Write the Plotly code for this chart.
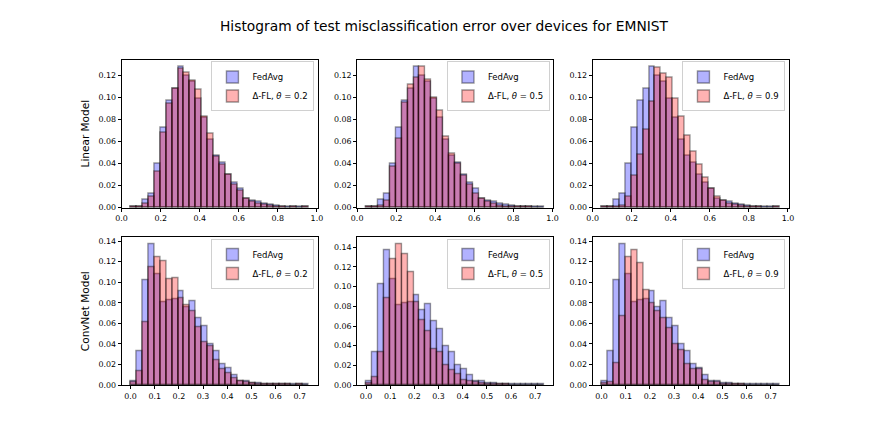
import numpy as np
import plotly.graph_objects as go
from plotly.subplots import make_subplots

# bin settings (30 bins per histogram)
n_bins = 30
lin_lo, lin_hi = 0.0457, 0.9593
conv_lo, conv_hi = 0.0, 0.738

thetas = ["0.2", "0.5", "0.9"]
row_names = ["Linear Model", "ConvNet Model"]

# Linear model, fraction of devices per bin
lin_fedavg = [0.001, 0.0005, 0.007, 0.013, 0.040, 0.073, 0.097, 0.108, 0.128, 0.120,
              0.114, 0.099, 0.082, 0.062, 0.047, 0.041, 0.030, 0.023, 0.017, 0.008,
              0.006, 0.005, 0.004, 0.003, 0.002, 0.001, 0.0005, 0.0005, 0.0005, 0.0005]
lin_dfl_02 = [0.001, 0.0005, 0.004, 0.010, 0.033, 0.068, 0.094, 0.108, 0.126, 0.123,
              0.115, 0.107, 0.083, 0.067, 0.046, 0.039, 0.030, 0.021, 0.015, 0.008,
              0.005, 0.004, 0.003, 0.002, 0.001, 0.0005, 0.0, 0.0005, 0.0, 0.0005]
lin_dfl_05 = [0.001, 0.0005, 0.002, 0.006, 0.037, 0.063, 0.095, 0.112, 0.118, 0.128,
              0.116, 0.100, 0.088, 0.064, 0.049, 0.040, 0.029, 0.021, 0.013, 0.008,
              0.005, 0.004, 0.002, 0.001, 0.001, 0.0005, 0.0005, 0.0005, 0.0, 0.0]
lin_dfl_09 = [0.001, 0.0005, 0.001, 0.002, 0.010, 0.029, 0.048, 0.071, 0.096, 0.127,
              0.122, 0.118, 0.099, 0.083, 0.065, 0.051, 0.039, 0.027, 0.017, 0.010,
              0.006, 0.004, 0.003, 0.002, 0.001, 0.0005, 0.0005, 0.0, 0.0, 0.0005]

# ConvNet model
conv_fedavg = [0.004, 0.033, 0.102, 0.137, 0.108, 0.081, 0.083, 0.084, 0.091, 0.076,
               0.082, 0.065, 0.057, 0.040, 0.033, 0.020, 0.016, 0.010, 0.004, 0.004,
               0.002, 0.002, 0.001, 0.001, 0.0005, 0.0005, 0.0005, 0.0005, 0.0005, 0.0005]
conv_dfl_02 = [0.003, 0.014, 0.061, 0.115, 0.124, 0.121, 0.103, 0.104, 0.085, 0.078,
               0.072, 0.056, 0.042, 0.038, 0.024, 0.015, 0.012, 0.007, 0.004, 0.003,
               0.002, 0.001, 0.001, 0.0005, 0.0005, 0.0005, 0.0005, 0.0, 0.0005, 0.0]
conv_dfl_05 = [0.002, 0.008, 0.033, 0.088, 0.128, 0.143, 0.133, 0.115, 0.084, 0.066,
               0.055, 0.036, 0.033, 0.020, 0.015, 0.011, 0.005, 0.004, 0.003, 0.002,
               0.001, 0.001, 0.0005, 0.0005, 0.0, 0.0, 0.0, 0.0, 0.0, 0.0]
conv_dfl_09 = [0.002, 0.003, 0.021, 0.067, 0.124, 0.131, 0.119, 0.092, 0.080, 0.072,
               0.065, 0.055, 0.040, 0.034, 0.020, 0.015, 0.015, 0.005, 0.003, 0.003,
               0.001, 0.001, 0.0005, 0.0005, 0.0, 0.0, 0.0, 0.0, 0.0, 0.0]

rows = [
    (np.linspace(lin_lo, lin_hi, n_bins + 1), lin_fedavg, [lin_dfl_02, lin_dfl_05, lin_dfl_09]),
    (np.linspace(conv_lo, conv_hi, n_bins + 1), conv_fedavg, [conv_dfl_02, conv_dfl_05, conv_dfl_09]),
]

BLUE = "rgba(0,0,255,0.3)"
RED = "rgba(255,0,0,0.3)"
EDGE = "rgba(0,0,0,0.4)"
FONT = "DejaVu Sans"

fig = make_subplots(rows=2, cols=3)

x_dom = [[0.125, 0.35294], [0.39853, 0.62647], [0.67206, 0.9]]
y_dom = [[0.5368, 0.88], [0.125, 0.4682]]

for r, (edges, fedavg, dfl_list) in enumerate(rows):
    centers = (edges[:-1] + edges[1:]) / 2
    width = edges[1] - edges[0]
    for c, dfl in enumerate(dfl_list):
        idx = r * 3 + c + 1
        leg = "legend" if idx == 1 else "legend%d" % idx
        for name, vals, col in [("FedAvg", fedavg, BLUE),
                                ("Δ-FL, <i>θ</i> = " + thetas[c], dfl, RED)]:
            fig.add_trace(go.Bar(x=centers, y=vals, width=width, name=name,
                                 marker=dict(color=col, line=dict(color=EDGE, width=1.4)),
                                 legend=leg, showlegend=True),
                          row=r + 1, col=c + 1)
        ymax = max(max(fedavg), max(dfl)) * 1.05
        lo, hi = edges[0], edges[-1]
        pad = (hi - lo) * 0.05
        if r == 0:
            xt = [0.0, 0.2, 0.4, 0.6, 0.8, 1.0]
            yt = [0.0, 0.02, 0.04, 0.06, 0.08, 0.10, 0.12]
        else:
            xt = [0.0, 0.1, 0.2, 0.3, 0.4, 0.5, 0.6, 0.7]
            yt = [0.0, 0.02, 0.04, 0.06, 0.08, 0.10, 0.12, 0.14]
        fig.update_xaxes(domain=x_dom[c], range=[lo - pad, hi + pad], tickvals=xt,
                         tickformat=".1f", row=r + 1, col=c + 1)
        fig.update_yaxes(domain=y_dom[r], range=[0, ymax], tickvals=yt,
                         tickformat=".2f", row=r + 1, col=c + 1)
        if c == 0:
            fig.update_yaxes(title=dict(text=row_names[r], font=dict(size=10.5, color="black"),
                                        standoff=6), row=r + 1, col=c + 1)
        fig.update_layout({leg: dict(x=x_dom[c][1] - 0.004, y=y_dom[r][1] - 0.004,
                                     xanchor="right", yanchor="top",
                                     bgcolor="rgba(255,255,255,0.8)", bordercolor="#d0d0d0",
                                     borderwidth=1, font=dict(size=8.5, family=FONT, color="black"),
                                     tracegroupgap=0, itemwidth=30)})

fig.update_xaxes(showline=True, mirror=True, linecolor="black", linewidth=1,
                 ticks="outside", ticklen=3, tickcolor="black", showgrid=False,
                 zeroline=False, tickfont=dict(size=7.9, color="black"))
fig.update_yaxes(showline=True, mirror=True, linecolor="black", linewidth=1,
                 ticks="outside", ticklen=3, tickcolor="black", showgrid=False,
                 zeroline=False, tickfont=dict(size=7.9, color="black"))

fig.update_layout(
    title=dict(text="Histogram of test misclassification error over devices for EMNIST",
               x=0.5, xanchor="center", y=0.958, yanchor="middle",
               font=dict(size=13.8, family=FONT, color="black")),
    barmode="overlay", bargap=0,
    width=872, height=436,
    margin=dict(l=0, r=0, t=0, b=0),
    paper_bgcolor="white", plot_bgcolor="white",
    font=dict(family=FONT, color="black"),
)

fig.write_html("out.html")
